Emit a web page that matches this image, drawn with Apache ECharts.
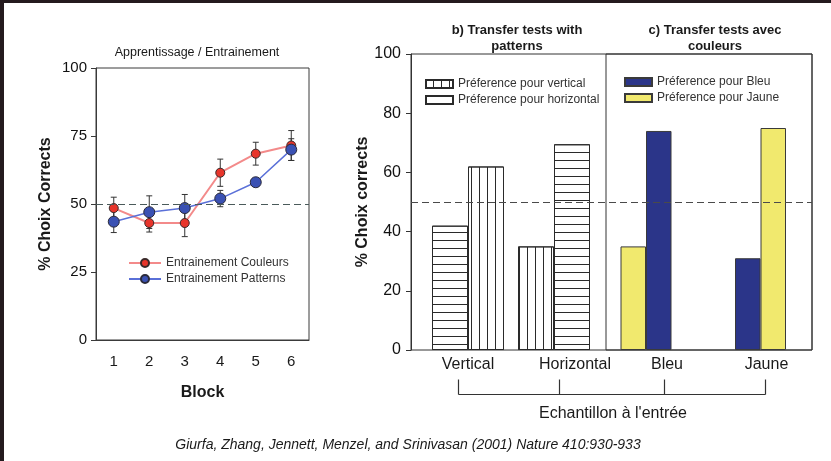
<!DOCTYPE html>
<html>
<head>
<meta charset="utf-8">
<script src="https://cdn.jsdelivr.net/npm/echarts@6/dist/echarts.min.js"></script>
<style>
html,body{margin:0;padding:0;background:#fff;}
#chart{width:831px;height:461px;}
</style>
</head>
<body>
<div id="chart"></div>
<script>
// ---- Data ----
const blocks = ['1', '2', '3', '4', '5', '6'];
const couleurs = [48.5, 43, 43, 61.5, 68.5, 71.5];
const couleursErr = [4, 3.3, 5, 5, 4.2, 5.5];
const patterns = [43.5, 47, 48.5, 52, 58, 70];
const patternsErr = [4, 6, 5, 3, 1.5, 4];
const leftTicks = [0, 25, 50, 75, 100];

const patternCats = ['Vertical', 'Horizontal'];
const prefVertical = [62, 35];
const prefHorizontal = [42, 69.5];

const colorCats = ['Bleu', 'Jaune'];
const prefBleu = [74, 31];
const prefJaune = [35, 75];
const rightTicks = [0, 20, 40, 60, 80, 100];

const FONT = '"Liberation Sans", Arial, Helvetica, sans-serif';
const DARK = '#1a1a1a';

const vertDecal = {symbol: 'rect', color: '#2a2a2a', dashArrayX: [1, 0], dashArrayY: [1, 7], symbolSize: 1, rotation: Math.PI / 2};
const horizDecal = {symbol: 'rect', color: '#2a2a2a', dashArrayX: [1, 0], dashArrayY: [1, 7], symbolSize: 1, rotation: 0};

const chart = echarts.init(document.getElementById('chart'), null, {renderer: 'canvas'});

function errorSeries(vals, errs) {
  return {
    type: 'custom', xAxisIndex: 0, yAxisIndex: 0, z: 1, silent: true,
    data: vals.map((v, i) => [i, v - errs[i], v + errs[i]]),
    encode: {x: 0, y: [1, 2]},
    renderItem: function (params, api) {
      const x = api.value(0);
      const lo = api.coord([x, api.value(1)]);
      const hi = api.coord([x, api.value(2)]);
      const w = 3;
      const st = {stroke: '#333', lineWidth: 1};
      return {type: 'group', children: [
        {type: 'line', shape: {x1: lo[0], y1: lo[1], x2: hi[0], y2: hi[1]}, style: st},
        {type: 'line', shape: {x1: lo[0] - w, y1: lo[1], x2: lo[0] + w, y2: lo[1]}, style: st},
        {type: 'line', shape: {x1: hi[0] - w, y1: hi[1], x2: hi[0] + w, y2: hi[1]}, style: st}
      ]};
    }
  };
}

// Per group: the "non-matching" preference on the left, the matching one on the right
const vLeft = prefVertical.map((v, i) => i === 1 ? v : null);
const vRight = prefVertical.map((v, i) => i === 0 ? v : null);
const hLeft = prefHorizontal.map((v, i) => i === 0 ? v : null);
const hRight = prefHorizontal.map((v, i) => i === 1 ? v : null);
const bLeft = prefBleu.map((v, i) => i === 1 ? v : null);
const bRight = prefBleu.map((v, i) => i === 0 ? v : null);
const jLeft = prefJaune.map((v, i) => i === 0 ? v : null);
const jRight = prefJaune.map((v, i) => i === 1 ? v : null);

function patBar(name, data, stack, decal) {
  return {name: name, type: 'bar', xAxisIndex: 3, yAxisIndex: 3, stack: stack, barWidth: 36, barGap: '0%',
    data: data, itemStyle: {color: '#fff', borderColor: '#2a2a2a', borderWidth: 1, decal: decal}, silent: true};
}
function colBar(name, data, stack, color) {
  return {name: name, type: 'bar', xAxisIndex: 4, yAxisIndex: 4, stack: stack, barWidth: 25.5, barGap: '0%',
    data: data, itemStyle: {color: color, borderColor: '#3a3a3a', borderWidth: 1}, silent: true};
}

const BLUE = '#2b3589';
const YELLOW = '#f1e96e';

const option = {
  animation: false,
  backgroundColor: '#fff',
  textStyle: {fontFamily: FONT},
  title: [
    {text: 'Apprentissage / Entrainement', left: 192, top: 41, textAlign: 'center',
      textStyle: {fontSize: 12.5, fontWeight: 'normal', color: DARK, fontFamily: FONT}},
    {text: 'b) Transfer tests with\npatterns', left: 512, top: 17, textAlign: 'center',
      textStyle: {fontSize: 13, fontWeight: 'bold', color: DARK, lineHeight: 16, fontFamily: FONT}},
    {text: 'c) Transfer tests avec\ncouleurs', left: 710, top: 17, textAlign: 'center',
      textStyle: {fontSize: 13, fontWeight: 'bold', color: DARK, lineHeight: 16, fontFamily: FONT}},
    {text: "Echantillon à l'entrée", left: 608, top: 401, textAlign: 'center',
      textStyle: {fontSize: 16, fontWeight: 'normal', color: DARK, fontFamily: FONT}},
    {text: 'Giurfa, Zhang, Jennett, Menzel, and Srinivasan (2001) Nature 410:930-933', left: 403, top: 433, textAlign: 'center',
      textStyle: {fontSize: 14, fontStyle: 'italic', fontWeight: 'normal', color: DARK, fontFamily: FONT}}
  ],
  legend: [
    {data: ['Entrainement Couleurs', 'Entrainement Patterns'], orient: 'vertical', left: 123, top: 252,
      itemWidth: 32, itemHeight: 10, itemGap: 4, selectedMode: false,
      textStyle: {fontSize: 12, color: '#333', fontFamily: FONT}},
    {data: ['Préference pour vertical', 'Préference pour horizontal'], orient: 'vertical', left: 420, top: 73,
      itemWidth: 27, itemHeight: 8, itemGap: 4, icon: 'rect', selectedMode: false,
      textStyle: {fontSize: 12, color: '#333', fontFamily: FONT}},
    {data: ['Préference pour Bleu', 'Préference pour Jaune'], orient: 'vertical', left: 619, top: 71,
      itemWidth: 27, itemHeight: 8, itemGap: 4, icon: 'rect', selectedMode: false,
      textStyle: {fontSize: 12, color: '#333', fontFamily: FONT}}
  ],
  grid: [
    {left: 96, top: 68, width: 213, height: 272, show: true, borderColor: '#3a3a3a', borderWidth: 1, containLabel: false},
    {left: 411, top: 54, width: 401, height: 296, show: true, borderColor: '#333', borderWidth: 1},
    {left: 606, top: 54, width: 206, height: 296, show: true, borderColor: '#333', borderWidth: 1},
    {left: 425, top: 54, width: 172, height: 296},
    {left: 588.75, top: 54, width: 229, height: 296}
  ],
  xAxis: [
    {gridIndex: 0, type: 'category', data: blocks, boundaryGap: true,
      name: 'Block', nameLocation: 'middle', nameGap: 45,
      nameTextStyle: {fontSize: 16, fontWeight: 'bold', color: DARK, fontFamily: FONT},
      axisLine: {lineStyle: {color: '#3a3a3a'}},
      axisTick: {alignWithLabel: true, length: 4, lineStyle: {color: '#3a3a3a'}},
      axisLabel: {fontSize: 15, color: DARK, margin: 14, fontFamily: FONT},
      splitLine: {show: false}},
    {gridIndex: 1, type: 'value', min: 0, max: 1, show: false},
    {gridIndex: 2, type: 'value', min: 0, max: 1, show: false},
    {gridIndex: 3, type: 'category', data: [
        patternCats[0],
        {value: patternCats[1], textStyle: {padding: [0, 0, 0, 42]}}
      ],
      axisLine: {show: false}, axisTick: {show: false},
      axisLabel: {interval: 0, hideOverlap: false, fontSize: 16, color: DARK, margin: 7, fontFamily: FONT}},
    {gridIndex: 4, type: 'category', data: [
        {value: colorCats[0], textStyle: {padding: [0, 0, 0, 42]}},
        {value: colorCats[1], textStyle: {padding: [0, 0, 0, 12]}}
      ],
      axisLine: {show: false}, axisTick: {show: false},
      axisLabel: {interval: 0, hideOverlap: false, fontSize: 16, color: DARK, margin: 7, fontFamily: FONT}}
  ],
  yAxis: [
    {gridIndex: 0, type: 'value', min: leftTicks[0], max: leftTicks[leftTicks.length - 1], interval: 25,
      name: '% Choix Corrects', nameLocation: 'middle', nameGap: 42, nameRotate: 90,
      nameTextStyle: {fontSize: 16, fontWeight: 'bold', color: DARK, fontFamily: FONT},
      axisLine: {show: true, lineStyle: {color: '#3a3a3a'}},
      axisTick: {show: true, length: 5, lineStyle: {color: '#3a3a3a'}},
      axisLabel: {fontSize: 15, color: '#111', margin: 9, fontFamily: FONT},
      splitLine: {show: false}},
    {gridIndex: 1, type: 'value', min: rightTicks[0], max: rightTicks[rightTicks.length - 1], interval: 20,
      name: '% Choix corrects', nameLocation: 'middle', nameGap: 40, nameRotate: 90,
      nameTextStyle: {fontSize: 16, fontWeight: 'bold', color: DARK, fontFamily: FONT},
      axisLine: {show: true, lineStyle: {color: '#333'}},
      axisTick: {show: true, length: 5, lineStyle: {color: '#333'}},
      axisLabel: {fontSize: 16, color: '#111', margin: 10, fontFamily: FONT},
      splitLine: {show: false}},
    {gridIndex: 2, type: 'value', min: 0, max: 100, show: false},
    {gridIndex: 3, type: 'value', min: 0, max: 100, show: false},
    {gridIndex: 4, type: 'value', min: 0, max: 100, show: false}
  ],
  series: [
    errorSeries(couleurs, couleursErr),
    errorSeries(patterns, patternsErr),
    {name: 'Entrainement Couleurs', type: 'line', xAxisIndex: 0, yAxisIndex: 0, data: couleurs, z: 3,
      symbol: 'circle', symbolSize: 9,
      lineStyle: {color: '#f38a8a', width: 2},
      itemStyle: {color: '#e8352b', borderColor: '#3a2a2a', borderWidth: 1},
      markLine: {symbol: 'none', silent: true, label: {show: false},
        lineStyle: {type: [7, 4], color: '#4a5a5a', width: 1}, data: [{yAxis: 50}]}},
    {name: 'Entrainement Patterns', type: 'line', xAxisIndex: 0, yAxisIndex: 0, data: patterns, z: 4,
      symbol: 'circle', symbolSize: 11,
      lineStyle: {color: '#5a70d8', width: 1.5},
      itemStyle: {color: '#3a51b3', borderColor: '#2a2a3a', borderWidth: 1}},
    {type: 'line', xAxisIndex: 1, yAxisIndex: 1, data: [], silent: true,
      markLine: {symbol: 'none', silent: true, label: {show: false},
        lineStyle: {type: [7, 4], color: '#4a4a4a', width: 1}, data: [{yAxis: 50}]}},
    patBar('Préference pour horizontal', hLeft, 'bL', horizDecal),
    patBar('Préference pour vertical', vLeft, 'bL', vertDecal),
    patBar('Préference pour vertical', vRight, 'bR', vertDecal),
    patBar('Préference pour horizontal', hRight, 'bR', horizDecal),
    colBar('Préference pour Bleu', bLeft, 'cL', BLUE),
    colBar('Préference pour Jaune', jLeft, 'cL', YELLOW),
    colBar('Préference pour Bleu', bRight, 'cR', BLUE),
    colBar('Préference pour Jaune', jRight, 'cR', YELLOW)
  ],
  graphic: [
    {type: 'rect', left: 0, top: 0, shape: {width: 4, height: 461}, style: {fill: '#241a1e'}, silent: true},
    {type: 'rect', left: 0, top: 0, shape: {width: 831, height: 3}, style: {fill: '#241a1e'}, silent: true},
    {type: 'group', left: 456, top: 377, silent: true, children: [
      {type: 'line', shape: {x1: 0, y1: 0, x2: 0, y2: 15}, style: {stroke: '#333', lineWidth: 1.2}},
      {type: 'line', shape: {x1: 101, y1: 0, x2: 101, y2: 15}, style: {stroke: '#333', lineWidth: 1.2}},
      {type: 'line', shape: {x1: 206, y1: 0, x2: 206, y2: 15}, style: {stroke: '#333', lineWidth: 1.2}},
      {type: 'line', shape: {x1: 307, y1: 0, x2: 307, y2: 15}, style: {stroke: '#333', lineWidth: 1.2}},
      {type: 'line', shape: {x1: 0, y1: 15, x2: 307, y2: 15}, style: {stroke: '#333', lineWidth: 1.2}}
    ]}
  ]
};

chart.setOption(option);
</script>
</body>
</html>
